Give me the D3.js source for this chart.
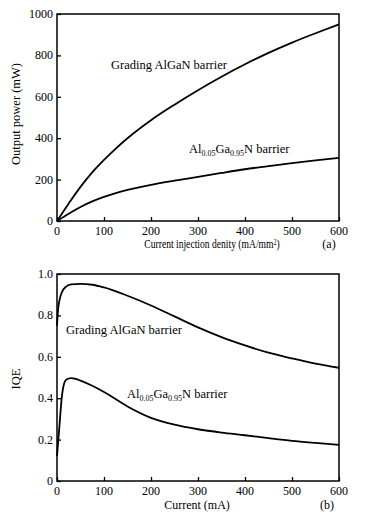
<!DOCTYPE html>
<html><head><meta charset="utf-8">
<script src="https://cdn.jsdelivr.net/npm/d3@7"></script>
<style>
body{margin:0;background:#fff}
svg{display:block}
text{font-family:"Liberation Serif","Times New Roman",serif;fill:#000}
</style>
</head><body>
<svg id="chart" width="371" height="525"></svg>
<script>
// ---- data ----
const xTicks = [0, 100, 200, 300, 400, 500, 600];
const powerTicks = [0, 200, 400, 600, 800, 1000];
const iqeTicks = [0, 0.2, 0.4, 0.6, 0.8, 1.0];

const powerX = [0, 25, 50, 75, 100, 125, 150, 200, 250, 300, 350, 400, 450, 500, 550, 600];
const powerGrading = [0, 85, 165, 235, 295, 350, 400, 487, 562, 632, 697, 757, 812, 862, 907, 950];
const powerAl = [0, 35, 68, 95, 117, 135, 150, 175, 195, 213, 232, 250, 265, 280, 293, 305];

const iqeGradingX = [0, 2, 5, 10, 20, 30, 50, 75, 100, 150, 200, 250, 300, 350, 400, 450, 500, 550, 600];
const iqeGrading = [0.75, 0.82, 0.87, 0.91, 0.94, 0.95, 0.952, 0.948, 0.935, 0.895, 0.848, 0.795, 0.742, 0.695, 0.655, 0.62, 0.592, 0.567, 0.547];

const iqeAlX = [0, 5, 10, 15, 20, 30, 40, 50, 75, 100, 150, 200, 250, 300, 350, 400, 450, 500, 550, 600];
const iqeAl = [0.12, 0.26, 0.40, 0.47, 0.49, 0.497, 0.493, 0.485, 0.46, 0.43, 0.36, 0.305, 0.272, 0.25, 0.234, 0.221, 0.207, 0.194, 0.184, 0.175];

// ---- drawing ----
const svg = d3.select("#chart");
const L = 57, R = 339;

function panel(cfg) {
  const x = d3.scaleLinear().domain([0, 600]).range([L, R]);
  const y = d3.scaleLinear().domain(cfg.yDomain).range([cfg.bottom, cfg.top]);
  const g = svg.append("g");

  g.append("g").attr("transform", `translate(0,${cfg.bottom})`)
    .call(d3.axisTop(x).tickValues(xTicks).tickSize(4).tickFormat(""))
    .call(a => a.select(".domain").remove())
    .selectAll("line").attr("stroke", "#000").attr("stroke-width", 1.3);
  g.append("g").attr("transform", `translate(${L},0)`)
    .call(d3.axisRight(y).tickValues(cfg.yTicks).tickSize(4).tickFormat(""))
    .call(a => a.select(".domain").remove())
    .selectAll("line").attr("stroke", "#000").attr("stroke-width", 1.3);

  g.selectAll(".xl").data(xTicks).join("text")
    .attr("x", d => x(d)).attr("y", cfg.bottom + 14)
    .attr("text-anchor", "middle").attr("font-size", 12).text(d => d);
  g.selectAll(".yl").data(cfg.yTicks).join("text")
    .attr("x", L - 4).attr("y", d => y(d) + 4)
    .attr("text-anchor", "end").attr("font-size", 12).text(cfg.fmt);

  g.append("rect").attr("x", L).attr("y", cfg.top)
    .attr("width", R - L).attr("height", cfg.bottom - cfg.top)
    .attr("fill", "none").attr("stroke", "#000").attr("stroke-width", 1.5);

  const line = d3.line().curve(d3.curveMonotoneX).x(d => x(d[0])).y(d => y(d[1]));
  cfg.series.forEach(s => {
    g.append("path").datum(s.xs.map((v, i) => [v, s.ys[i]]))
      .attr("d", line).attr("fill", "none").attr("stroke", "#000").attr("stroke-width", 1.8);
  });
  return {x, y, g};
}

const panelA = panel({
  top: 14, bottom: 221, yDomain: [0, 1000], yTicks: powerTicks, fmt: d => d,
  series: [{xs: powerX, ys: powerGrading}, {xs: powerX, ys: powerAl}]
});
const panelB = panel({
  top: 274, bottom: 481, yDomain: [0, 1.0], yTicks: iqeTicks, fmt: d => d === 0 ? "0" : d3.format(".1f")(d),
  series: [{xs: iqeGradingX, ys: iqeGrading}, {xs: iqeAlX, ys: iqeAl}]
});

function alLabel(x, y) {
  const t = svg.append("text").attr("x", x).attr("y", y).attr("font-size", 12.5);
  t.append("tspan").text("Al");
  t.append("tspan").attr("font-size", 8).attr("dy", 3).text("0.05");
  t.append("tspan").attr("dy", -3).text("Ga");
  t.append("tspan").attr("font-size", 8).attr("dy", 3).text("0.95");
  t.append("tspan").attr("dy", -3).text("N barrier");
}

svg.append("text").attr("x", 111).attr("y", 69).attr("font-size", 12.5).text("Grading AlGaN barrier");
alLabel(189, 153);
const xt = svg.append("text").attr("transform", "translate(212,248) scale(0.8,1)")
  .attr("text-anchor", "middle").attr("font-size", 12);
xt.append("tspan").text("Current injection denity (mA/mm");
xt.append("tspan").attr("font-size", 7.5).attr("baseline-shift", "super").text("2");
xt.append("tspan").text(")");
svg.append("text").attr("x", 329).attr("y", 248).attr("text-anchor", "middle").attr("font-size", 12).text("(a)");
svg.append("text").attr("transform", "translate(20,114) rotate(-90)").attr("text-anchor", "middle")
  .attr("font-size", 12.5).text("Output power (mW)");

svg.append("text").attr("x", 66).attr("y", 334).attr("font-size", 12.5).text("Grading AlGaN barrier");
alLabel(127, 398);
svg.append("text").attr("x", 197).attr("y", 509).attr("text-anchor", "middle").attr("font-size", 12).text("Current (mA)");
svg.append("text").attr("x", 327).attr("y", 509).attr("text-anchor", "middle").attr("font-size", 12).text("(b)");
svg.append("text").attr("transform", "translate(20,379) rotate(-90)").attr("text-anchor", "middle")
  .attr("font-size", 12.5).text("IQE");
</script>
</body></html>
